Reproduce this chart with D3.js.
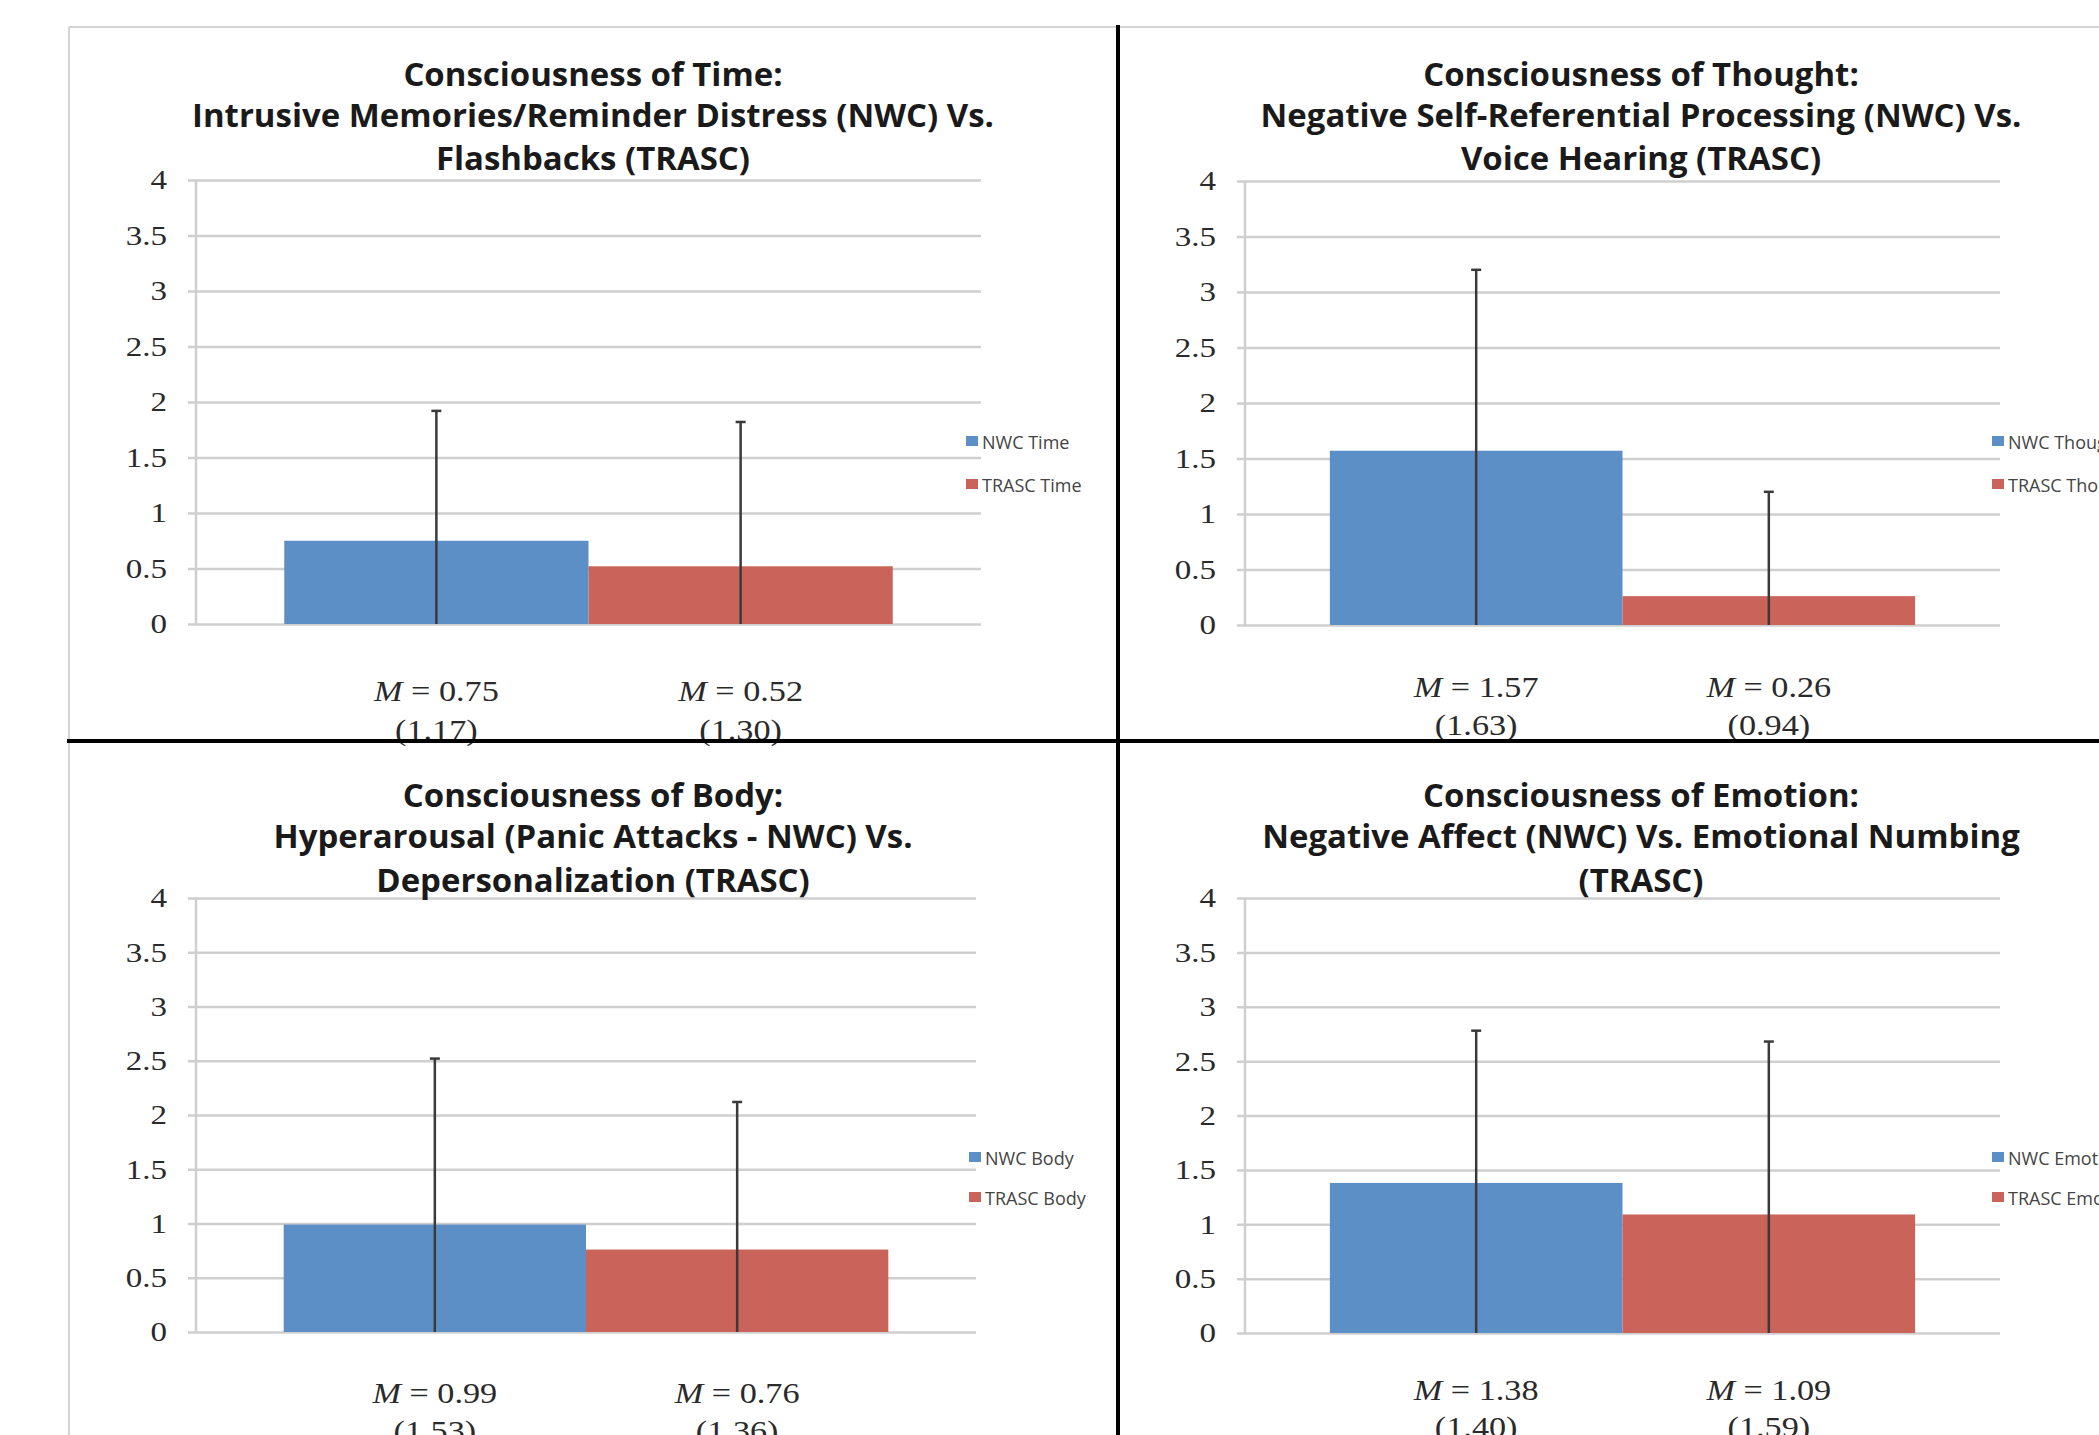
<!DOCTYPE html>
<html>
<head>
<meta charset="utf-8">
<script src="https://cdn.jsdelivr.net/npm/d3@7"></script>
<style>
  html, body { margin: 0; padding: 0; background: #fff; overflow: hidden; }
</style>
</head>
<body>
<svg id="chart" width="2099" height="1435"></svg>
<script>
"use strict";

// data
const panelNames = ['Time', 'Thought', 'Body', 'Emotion'];
const titles = [
  ['Consciousness of Time:', 'Intrusive Memories/Reminder Distress (NWC) Vs.', 'Flashbacks (TRASC)'],
  ['Consciousness of Thought:', 'Negative Self-Referential Processing (NWC) Vs.', 'Voice Hearing (TRASC)'],
  ['Consciousness of Body:', 'Hyperarousal (Panic Attacks - NWC) Vs.', 'Depersonalization (TRASC)'],
  ['Consciousness of Emotion:', 'Negative Affect (NWC) Vs. Emotional Numbing', '(TRASC)']
];
const seriesNames = ['NWC', 'TRASC'];
const nwcMeans = [0.75, 1.57, 0.99, 1.38];
const nwcSD = [1.17, 1.63, 1.53, 1.40];
const trascMeans = [0.52, 0.26, 0.76, 1.09];
const trascSD = [1.30, 0.94, 1.36, 1.59];
const yTicks = [0, 0.5, 1, 1.5, 2, 2.5, 3, 3.5, 4];

const colors = {NWC: '#5b8fc5', TRASC: '#ca645b'};

// panel layout (pixels)
let layout = [
  {x0:196, x1:981, top:180, bot:624, tx:593, ty:[74,115,158], lx:966, ly:[443,486], my:[691,730]},
  {x0:1245, x1:2000, top:181, bot:625, tx:1641, ty:[74,115,158], lx:1992, ly:[443,486], my:[687,725]},
  {x0:196, x1:976, top:898, bot:1332, tx:593, ty:[795,836,880], lx:969, ly:[1159,1199], my:[1393,1431]},
  {x0:1245, x1:2000, top:898, bot:1333, tx:1641, ty:[795,836,880], lx:1992, ly:[1159,1199], my:[1390,1427]}
];

let svg = d3.select('#chart');

// frame: light chart borders
svg.append('line').attr('x1', 69).attr('x2', 2099).attr('y1', 27).attr('y2', 27)
  .attr('stroke', '#d4d4d4').attr('stroke-width', 2);
svg.append('line').attr('x1', 69).attr('x2', 69).attr('y1', 27).attr('y2', 1435)
  .attr('stroke', '#d4d4d4').attr('stroke-width', 2);

let titleFont = 30;
let stretch = 1.18;  // the source picture is a little wider than tall

panelNames.forEach((name, i) => {
  let L = layout[i];
  let g = svg.append('g').attr('class', 'panel');

  let y = d3.scaleLinear().domain([0, 4]).range([L.bot, L.top]);
  let x = d3.scaleBand().domain([name]).range([L.x0, L.x1]).paddingInner(0).paddingOuter(0.145);
  let xs = d3.scaleBand().domain(seriesNames).range([0, x.bandwidth()]);

  // gridlines + tick labels
  let axis = d3.axisLeft(y).tickValues(yTicks).tickFormat(d3.format('')).tickSize(-(L.x1 - L.x0 + 8)).tickPadding(21);
  let ag = g.append('g').attr('transform', `translate(${L.x0 - 8},0)`).call(axis);
  ag.select('.domain').remove();
  ag.selectAll('.tick line').attr('stroke', '#cfcfcf').attr('stroke-width', 2.5);
  ag.selectAll('.tick text').attr('fill', '#2a2a2a')
    .attr('font-family', 'Liberation Serif').attr('font-size', 28)
    .attr('x', -21 / stretch).attr('transform', `scale(${stretch},1)`);

  // y axis line
  g.append('line').attr('x1', L.x0).attr('x2', L.x0).attr('y1', y(4)).attr('y2', y(0))
    .attr('stroke', '#cfcfcf').attr('stroke-width', 2.5);

  let rows = [
    {s:'NWC', m:nwcMeans[i], sd:nwcSD[i]},
    {s:'TRASC', m:trascMeans[i], sd:trascSD[i]}
  ];

  g.selectAll('rect.bar').data(rows).join('rect').attr('class', 'bar')
    .attr('x', d => x(name) + xs(d.s))
    .attr('width', xs.bandwidth())
    .attr('y', d => y(d.m))
    .attr('height', d => y(0) - y(d.m))
    .attr('fill', d => colors[d.s]);

  // error bars (lower end clipped at the axis)
  let cx = d => x(name) + xs(d.s) + xs.bandwidth() / 2;
  g.selectAll('line.err').data(rows).join('line').attr('class', 'err')
    .attr('x1', cx).attr('x2', cx)
    .attr('y1', d => y(d.m + d.sd)).attr('y2', d => y(Math.max(0, d.m - d.sd)))
    .attr('stroke', '#3a3a3a').attr('stroke-width', 2.5);
  g.selectAll('line.cap').data(rows).join('line').attr('class', 'cap')
    .attr('x1', d => cx(d) - 5).attr('x2', d => cx(d) + 5)
    .attr('y1', d => y(d.m + d.sd)).attr('y2', d => y(d.m + d.sd))
    .attr('stroke', '#3a3a3a').attr('stroke-width', 2.5);

  // mean / sd labels under bars
  let fmt = d3.format('.2f');
  let ml = g.selectAll('text.mean').data(rows).join('text').attr('class', 'mean')
    .attr('transform', d => `translate(${cx(d)},${L.my[0]}) scale(${stretch},1)`).attr('dy', '0.35em')
    .attr('text-anchor', 'middle').attr('font-family', 'Liberation Serif')
    .attr('font-size', 29).attr('fill', '#2a2a2a');
  ml.append('tspan').attr('font-style', 'italic').text('M');
  ml.append('tspan').text(d => ' = ' + fmt(d.m));
  g.selectAll('text.sd').data(rows).join('text').attr('class', 'sd')
    .attr('transform', d => `translate(${cx(d)},${L.my[1]}) scale(${stretch},1)`).attr('dy', '0.35em')
    .attr('text-anchor', 'middle').attr('font-family', 'Liberation Serif')
    .attr('font-size', 29).attr('fill', '#2a2a2a')
    .text(d => '(' + fmt(d.sd) + ')');

  // legend
  let lg = g.selectAll('g.leg').data(rows).join('g').attr('class', 'leg')
    .attr('transform', (d, j) => `translate(${L.lx},${L.ly[j]})`);
  lg.append('rect').attr('x', 0).attr('y', -7).attr('width', 12).attr('height', 10)
    .attr('fill', d => colors[d.s]);
  lg.append('text').attr('x', 16).attr('dy', '0.35em')
    .attr('font-family', 'Open Sans').attr('font-size', 18).attr('fill', '#444')
    .text(d => d.s + ' ' + name);

  // title
  g.selectAll('text.title').data(titles[i]).join('text').attr('class', 'title')
    .attr('x', L.tx).attr('y', (d, j) => L.ty[j]).attr('dy', '0.35em')
    .attr('text-anchor', 'middle').attr('font-family', 'Open Sans').attr('font-weight', 700)
    .attr('font-size', titleFont).attr('fill', '#1a1a1a')
    .text(d => d);
});

// fit the title size to the width seen in the picture
let probe = svg.selectAll('text.title').filter((d) => d === titles[0][1]).node();
let fitSize = titleFont * 802 / probe.getComputedTextLength();
svg.selectAll('text.title').attr('font-size', fitSize);

// thick black dividers between the four charts
svg.append('line').attr('x1', 67).attr('x2', 2099).attr('y1', 741).attr('y2', 741)
  .attr('stroke', '#000').attr('stroke-width', 4);
svg.append('line').attr('x1', 1118).attr('x2', 1118).attr('y1', 25).attr('y2', 1435)
  .attr('stroke', '#000').attr('stroke-width', 4);
</script>
</body>
</html>
